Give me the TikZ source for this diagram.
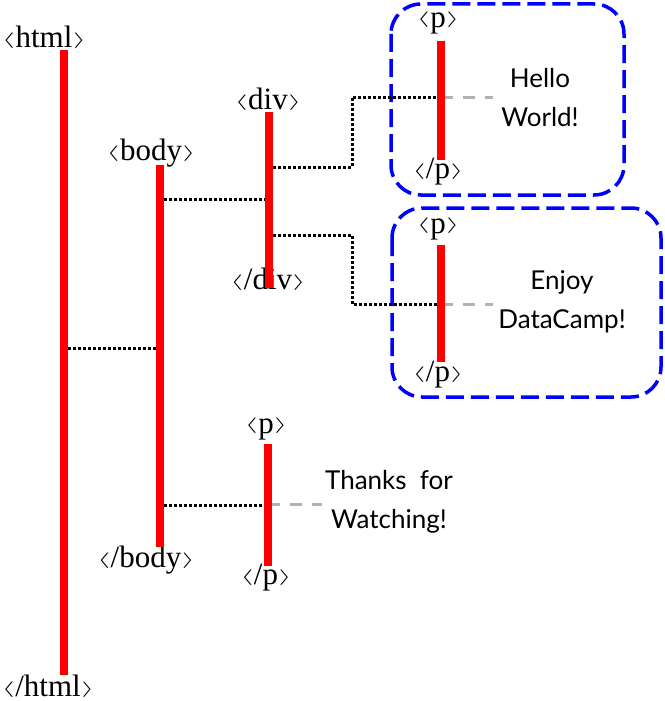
\documentclass[tikz,border=0pt]{standalone}
\usepackage{graphicx}
\usepackage{fontspec}
\setmainfont{Liberation Serif}
\newfontfamily\txtfont{Lato}
\newcommand\tagL{\raisebox{0.1em}{\scalebox{1.35}[0.62]{$\langle$}}\kern0.02em}
\newcommand\tagR{\kern0.02em\raisebox{0.1em}{\scalebox{1.35}[0.62]{$\rangle$}}}
\begin{document}
\begin{tikzpicture}[x=1pt,y=-1pt,
  tag/.style={inner sep=0pt,font=\fontsize{31}{34}\selectfont},
  txt/.style={inner sep=0pt,align=center,font=\txtfont\fontsize{26}{39}\selectfont},
  bar/.style={draw=red,line width=8pt},
  link/.style={draw=black,line width=3pt,dotted},
  leaf/.style={draw=black!30,line width=3pt,dash pattern=on 12pt off 10pt},
  grp/.style={draw=blue,line width=3.5pt,dash pattern=on 18pt off 7pt,rounded corners=30pt}]
\useasboundingbox (0,0) rectangle (664,701);
% group boxes
\draw[grp] (391,4) rectangle (624,195);
\draw[grp] (392,208) rectangle (661,397);
% tags
\node[tag] (htmlo) at (44,37) {\tagL html\tagR};
\node[tag] (htmlc) at (48,686) {\tagL/html\tagR};
\node[tag] (bodyo) at (151,153) {\tagL body\tagR};
\node[tag] (bodyc) at (146,560) {\tagL/body\tagR};
\node[tag] (divo) at (268,99) {\tagL div\tagR};
\node[tag] (divc) at (268,279) {\tagL/div\tagR};
\node[tag] (p1o) at (438,23) {\tagL p\tagR};
\node[tag] (p1c) at (438,172) {\tagL/p\tagR};
\node[tag] (p2o) at (438,229) {\tagL p\tagR};
\node[tag] (p2c) at (438,375) {\tagL/p\tagR};
\node[tag] (p3o) at (266,429) {\tagL p\tagR};
\node[tag] (p3c) at (266,578) {\tagL/p\tagR};
% texts
\node[txt] (t1) at (540,98) {Hello\\World!};
\node[txt] (t2) at (562,302) {Enjoy\\DataCamp!};
\node[txt] (t3) at (389,502) {Thanks\ \ for\\Watching!};
% bar coordinates
\coordinate (hA) at (64,50);  \coordinate (hB) at (64,675);
\coordinate (bA) at (160,165); \coordinate (bB) at (160,547);
\coordinate (dA) at (269,112); \coordinate (dB) at (269,288);
\coordinate (aA) at (441,41);  \coordinate (aB) at (441,160);
\coordinate (cA) at (441,245); \coordinate (cB) at (441,362);
\coordinate (eA) at (268,444); \coordinate (eB) at (268,566);
% links
\draw[link] (68,348) -- (157,348);
\draw[link] (164,199) -- (266,199);
\draw[link] (164,505) -- (266,505);
\draw[link] (273,167) -- (352,167) -- (352,97) -- (441,97);
\draw[link] (273,235) -- (352,235) -- (352,304) -- (441,304);
\draw[leaf] (441,97) -- (493,97);
\draw[leaf] (441,304) -- (493,304);
\draw[leaf] (268,504) -- (322,504);
% bars
\draw[bar] (hA) -- (hB);
\draw[bar] (bA) -- (bB);
\draw[bar] (dA) -- (dB);
\draw[bar] (aA) -- (aB);
\draw[bar] (cA) -- (cB);
\draw[bar] (eA) -- (eB);
\end{tikzpicture}
\end{document}
